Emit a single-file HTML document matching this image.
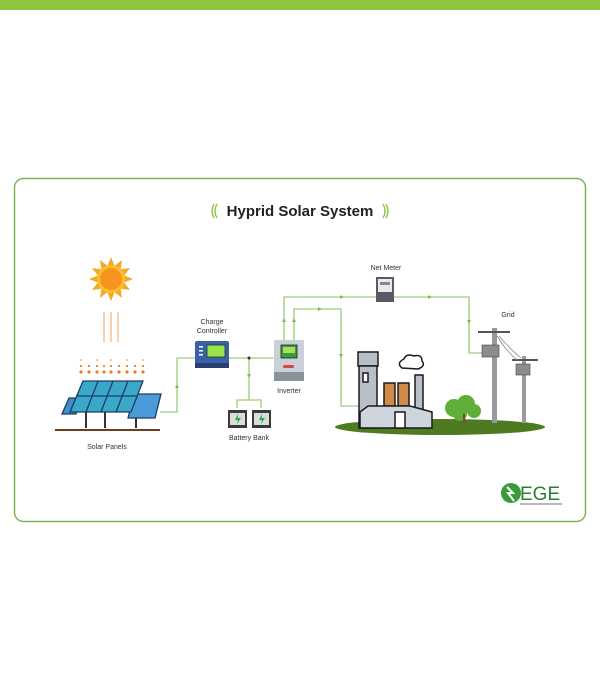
<!DOCTYPE html>
<html><head><meta charset="utf-8"><style>
html,body{margin:0;padding:0;background:#fff;width:600px;height:700px;overflow:hidden}
svg{display:block}
text{font-family:"Liberation Sans",sans-serif}
</style></head><body>
<svg width="600" height="700" viewBox="0 0 600 700" xmlns="http://www.w3.org/2000/svg">
<rect x="0" y="0" width="600" height="10" fill="#8dc63f"/>
<rect x="14.5" y="178.5" width="571" height="343" rx="9" fill="#fff" stroke="#7ab55c" stroke-width="1.5"/>
<!-- title -->
<text x="300" y="216" text-anchor="middle" font-size="15" font-weight="bold" fill="#222">Hyprid Solar System</text>
<path d="M217 204 q-4 7 0 14 M214 204 q-4 7 0 14" stroke="#8dc63f" stroke-width="1.3" fill="none"/>
<path d="M383 204 q4 7 0 14 M386 204 q4 7 0 14" stroke="#8dc63f" stroke-width="1.3" fill="none"/>
<!-- sun -->
<g transform="translate(111,279)">
<g fill="#f7a823">
<polygon points="0,-22 4,-12 -4,-12"/><polygon points="0,22 4,12 -4,12"/><polygon points="-22,0 -12,4 -12,-4"/><polygon points="22,0 12,4 12,-4"/>
<g transform="rotate(30)"><polygon points="0,-22 4,-12 -4,-12"/><polygon points="0,22 4,12 -4,12"/><polygon points="-22,0 -12,4 -12,-4"/><polygon points="22,0 12,4 12,-4"/></g>
<g transform="rotate(60)"><polygon points="0,-22 4,-12 -4,-12"/><polygon points="0,22 4,12 -4,12"/><polygon points="-22,0 -12,4 -12,-4"/><polygon points="22,0 12,4 12,-4"/></g>
</g>
<circle r="14" fill="#fbbf2e"/><circle r="11" fill="#f7941d"/>
</g>
<g stroke="#f5a05a" stroke-width="1"><line x1="104" y1="312" x2="104" y2="342"/><line x1="111" y1="312" x2="111" y2="342"/><line x1="118" y1="312" x2="118" y2="342"/></g>
<g fill="#f07b22">
<circle cx="81" cy="372" r="1.6"/><circle cx="89" cy="372" r="1.6"/><circle cx="97" cy="372" r="1.6"/><circle cx="104" cy="372" r="1.6"/><circle cx="111" cy="372" r="1.6"/><circle cx="119" cy="372" r="1.6"/><circle cx="127" cy="372" r="1.6"/><circle cx="135" cy="372" r="1.6"/><circle cx="143" cy="372" r="1.6"/>
<circle cx="81" cy="366" r="1.1"/><circle cx="89" cy="366" r="1.1"/><circle cx="97" cy="366" r="1.1"/><circle cx="104" cy="366" r="1.1"/><circle cx="111" cy="366" r="1.1"/><circle cx="119" cy="366" r="1.1"/><circle cx="127" cy="366" r="1.1"/><circle cx="135" cy="366" r="1.1"/><circle cx="143" cy="366" r="1.1"/>
<circle cx="81" cy="360" r="0.8"/><circle cx="97" cy="360" r="0.8"/><circle cx="111" cy="360" r="0.8"/><circle cx="127" cy="360" r="0.8"/><circle cx="143" cy="360" r="0.8"/>
</g>
<!-- panels -->
<g stroke="#1f3b66" stroke-width="1.3">
<polygon points="69,398 82,398 76,414 62,414" fill="#3f8fcf"/>
<polygon points="134,394 161,394 155,418 128,418" fill="#4a9bd8"/>
<polygon points="83,381 143,381 131,412 70,412" fill="#3aa8c8"/>
<line x1="98" y1="381" x2="86" y2="412"/><line x1="113" y1="381" x2="101" y2="412"/><line x1="128" y1="381" x2="116" y2="412"/><line x1="77" y1="396" x2="137" y2="396"/>
</g>
<g stroke="#333" stroke-width="2"><line x1="86" y1="412" x2="86" y2="428"/><line x1="105" y1="412" x2="105" y2="428"/><line x1="136" y1="418" x2="136" y2="428"/></g>
<line x1="55" y1="430" x2="160" y2="430" stroke="#6b3d1e" stroke-width="2"/>
<text x="107" y="449" text-anchor="middle" font-size="7" fill="#333">Solar Panels</text>
<!-- wires -->
<g stroke="#9ccd7a" stroke-width="1.3" fill="none">
<polyline points="160,412 177,412 177,358 195,358"/>
<line x1="229" y1="358" x2="275" y2="358"/>
<polyline points="249,358 249,400"/>
<polyline points="237,408 237,400 261,400 261,408"/>
<polyline points="284,340 284,297 469,297 469,353 484,353"/>
<polyline points="294,340 294,309 341,309 341,406 360,406"/>
</g>
<circle cx="249" cy="358" r="1.5" fill="#333"/>
<g fill="#7bbf4a">
<polygon points="177,384 175,388 179,388"/><polygon points="249,378 247,374 251,374"/>
<polygon points="284,318 282,322 286,322"/><polygon points="294,318 292,322 296,322"/>
<polygon points="344,297 340,295 340,299"/><polygon points="432,297 428,295 428,299"/>
<polygon points="322,309 318,307 318,311"/><polygon points="469,324 467,320 471,320"/><polygon points="341,358 339,354 343,354"/>
</g>
<!-- charge controller -->
<text x="212" y="324" text-anchor="middle" font-size="7" fill="#333">Charge</text>
<text x="212" y="333" text-anchor="middle" font-size="7" fill="#333">Controller</text>
<rect x="195" y="341" width="34" height="27" rx="2" fill="#3b5fa8"/>
<rect x="195" y="363" width="34" height="5" fill="#2b3f6e"/>
<rect x="207" y="345" width="18" height="12" fill="#9be34a" stroke="#1e3a2a" stroke-width="0.8"/>
<g fill="#fff"><rect x="199" y="346" width="4" height="1.5"/><rect x="199" y="350" width="4" height="1.5"/><rect x="199" y="354" width="4" height="1.5"/></g>
<!-- batteries -->
<g><rect x="228" y="410" width="19" height="18" fill="#3a3a3a"/><rect x="230" y="413" width="15" height="12" fill="#dcdcdc"/><path d="M238 414 l-3 6 h3 l-1 4 4-6 h-3z" fill="#2fa84f"/>
<rect x="252" y="410" width="19" height="18" fill="#3a3a3a"/><rect x="254" y="413" width="15" height="12" fill="#dcdcdc"/><path d="M262 414 l-3 6 h3 l-1 4 4-6 h-3z" fill="#2fa84f"/></g>
<text x="249" y="440" text-anchor="middle" font-size="7" fill="#333">Battery Bank</text>
<!-- inverter -->
<rect x="274" y="340" width="30" height="41" fill="#c9d0d8"/><rect x="274" y="372" width="30" height="9" fill="#8a939c"/>
<rect x="281" y="345" width="16" height="13" fill="#3d9a3a" stroke="#223" stroke-width="0.8"/><rect x="283" y="347" width="12" height="6" fill="#a6e05a"/>
<rect x="283" y="365" width="11" height="3" rx="1.5" fill="#d9463f"/>
<text x="289" y="393" text-anchor="middle" font-size="7" fill="#333">Inverter</text>
<!-- net meter -->
<text x="386" y="270" text-anchor="middle" font-size="7" fill="#333">Net Meter</text>
<rect x="376" y="277" width="18" height="25" fill="#5a5a66"/><rect x="378" y="279" width="14" height="13" fill="#e8e8ee"/><rect x="380" y="282" width="10" height="3" fill="#888"/>
<!-- ground -->
<ellipse cx="440" cy="427" rx="105" ry="8" fill="#4f7a22"/>
<!-- factory -->
<g stroke="#1a1a1a" stroke-width="1.5">
<rect x="358" y="352" width="20" height="14" fill="#b8bfc8"/>
<rect x="359" y="366" width="18" height="62" fill="#b8bfc8"/>
<rect x="363" y="373" width="5" height="9" fill="#fff"/>
<rect x="384" y="383" width="11" height="23" fill="#d28a4a"/><rect x="398" y="383" width="11" height="23" fill="#d28a4a"/>
<rect x="415" y="375" width="8" height="50" fill="#b8bfc8"/>
<polygon points="368,406 410,406 432,412 432,428 360,428 360,412" fill="#cfd5dc"/>
<rect x="395" y="412" width="10" height="16" fill="#fff"/>
</g>
<path d="M402 368 q-6 -5 2 -9 q2 -6 10 -3 q8 -2 8 5 q4 5 -4 8z" fill="#fff" stroke="#1a1a1a" stroke-width="1.5"/>
<!-- tree -->
<g fill="#5fae3a"><circle cx="454" cy="408" r="9"/><circle cx="466" cy="404" r="9"/><circle cx="474" cy="411" r="7"/><circle cx="460" cy="414" r="7"/></g>
<rect x="463" y="414" width="2" height="9" fill="#7a4a22"/>
<!-- poles -->
<text x="508" y="317" text-anchor="middle" font-size="7" fill="#333">Grid</text>
<g fill="#9a9a9a"><rect x="492" y="328" width="5" height="95"/><rect x="522" y="356" width="4" height="67"/>
<rect x="478" y="331" width="32" height="2" fill="#555"/><rect x="512" y="359" width="26" height="2" fill="#555"/>
<rect x="482" y="345" width="17" height="12" fill="#8c8c8c" stroke="#444" stroke-width="0.6"/>
<rect x="516" y="364" width="14" height="11" fill="#8c8c8c" stroke="#444" stroke-width="0.6"/></g>
<path d="M497 336 q10 16 20 24 M499 336 q12 14 22 22" stroke="#888" fill="none" stroke-width="0.8"/>
<!-- logo -->
<circle cx="511" cy="493" r="10" fill="#3a9b3a"/><path d="M507 487 l6 6 -5 0 6 8" stroke="#fff" stroke-width="2" fill="none"/>
<text x="520" y="500" font-size="19" fill="#2e7d32" font-family="Liberation Serif,serif">EGE</text>
<rect x="520" y="503" width="42" height="2" fill="#bbb"/>
</svg>
</body></html>
